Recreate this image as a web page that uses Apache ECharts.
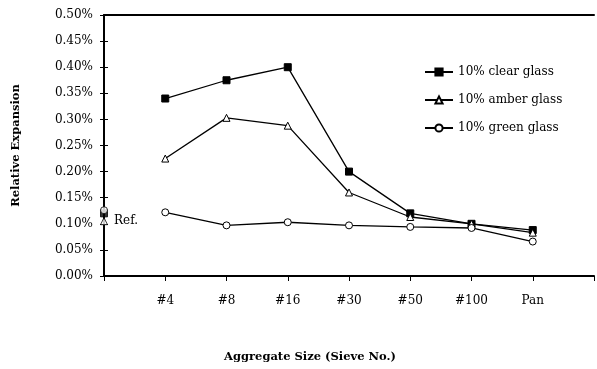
<!DOCTYPE html>
<html>
<head>
<meta charset="utf-8">
<script src="https://cdn.jsdelivr.net/npm/echarts@6/dist/echarts.min.js"></script>
<style>
  html, body { margin: 0; padding: 0; background: #fff; }
  #chart { width: 597px; height: 369px; }
</style>
</head>
<body>
<div id="chart"></div>
<script>
// sieve sizes, index 0 is the reference mix drawn on the y axis
var categories = ['Ref.', '#4', '#8', '#16', '#30', '#50', '#100', 'Pan'];
// relative expansion in %, first value = reference mix
var clearGlass = [0.120, 0.340, 0.375, 0.400, 0.200, 0.120, 0.100, 0.088];
var amberGlass = [0.105, 0.225, 0.303, 0.288, 0.160, 0.113, 0.100, 0.083];
var greenGlass = [0.126, 0.122, 0.097, 0.103, 0.097, 0.094, 0.092, 0.066];
var yTicks = [0, 0.5, 0.05];

var serif = 'DejaVu Serif';

var chart = echarts.init(document.getElementById('chart'));

function makeSeries(name, data, symbol, fill) {
    var style = { color: fill, borderColor: '#000', borderWidth: 1 };
    var pts = [];
    for (var i = 1; i < data.length; i++) pts.push([i, data[i]]);
    return [
        {
            name: name,
            type: 'line',
            data: pts,
            symbol: symbol,
            symbolSize: 7,
            showAllSymbol: true,
            lineStyle: { color: '#000', width: 1.3 },
            itemStyle: style,
            emphasis: { disabled: true }
        },
        {   // reference point, not joined to the sieve curve
            name: name,
            type: 'scatter',
            data: [[0, data[0]]],
            symbol: symbol,
            symbolSize: 7,
            itemStyle: style,
            emphasis: { disabled: true }
        }
    ];
}

var series = [].concat(
    makeSeries('10% clear glass', clearGlass, 'rect', '#000'),
    makeSeries('10% amber glass', amberGlass, 'triangle', '#fff'),
    makeSeries('10% green glass', greenGlass, 'circle', '#fff')
);
// "Ref." text beside the reference points
series[3].label = {
    show: true, position: 'right', distance: 6,
    formatter: categories[0],
    color: '#000', opacity: 1, fontFamily: serif, fontSize: 12
};

var option = {
    backgroundColor: '#fff',
    animation: false,
    grid: { left: 104, right: -3, top: 15, bottom: 93 },
    title: {
        text: 'Aggregate Size (Sieve No.)',
        left: 219, top: 346,
        textStyle: { fontFamily: serif, fontSize: 11.5, fontWeight: 'bold', color: '#000' }
    },
    legend: {
        orient: 'vertical',
        left: 419, top: 61,
        itemWidth: 28, itemHeight: 9, itemGap: 16,
        textStyle: { fontFamily: serif, fontSize: 12, color: '#000' },
        data: ['10% clear glass', '10% amber glass', '10% green glass']
    },
    xAxis: [
        {
            type: 'value',
            min: 0, max: 8, interval: 1,
            splitLine: { show: false },
            axisLine: { onZero: false, lineStyle: { color: '#000', width: 2 } },
            axisTick: { length: 5, lineStyle: { color: '#000' } },
            axisLabel: {
                margin: 19,
                fontFamily: serif, fontSize: 12, color: '#000',
                formatter: function (v) { return v > 0 && v < categories.length ? categories[v] : ''; }
            }
        },
        {
            type: 'value', position: 'top',
            min: 0, max: 8,
            splitLine: { show: false },
            axisLine: { show: true, onZero: false, lineStyle: { color: '#000', width: 2 } },
            axisTick: { show: false },
            axisLabel: { show: false }
        }
    ],
    yAxis: [
        {
            type: 'value',
            min: yTicks[0], max: yTicks[1], interval: yTicks[2],
            name: 'Relative Expansion',
            nameLocation: 'middle',
            nameGap: 82,
            nameTextStyle: { fontFamily: serif, fontSize: 11.5, fontWeight: 'bold', color: '#000' },
            splitLine: { show: false },
            axisLine: { show: true, onZero: false, lineStyle: { color: '#000', width: 2 } },
            axisTick: { show: true, length: 4, lineStyle: { color: '#000' } },
            axisLabel: {
                margin: 11,
                fontFamily: serif, fontSize: 12, color: '#000',
                formatter: function (v) { return v.toFixed(2) + '%'; }
            }
        },
        {
            type: 'value', position: 'left',
            min: yTicks[0], max: yTicks[1], interval: yTicks[2],
            splitLine: { show: false },
            axisLine: { show: false, onZero: false },
            axisTick: { show: true, inside: true, length: 4, lineStyle: { color: '#000' } },
            axisLabel: { show: false }
        }
    ],
    series: series
};

chart.setOption(option);
</script>
</body>
</html>
